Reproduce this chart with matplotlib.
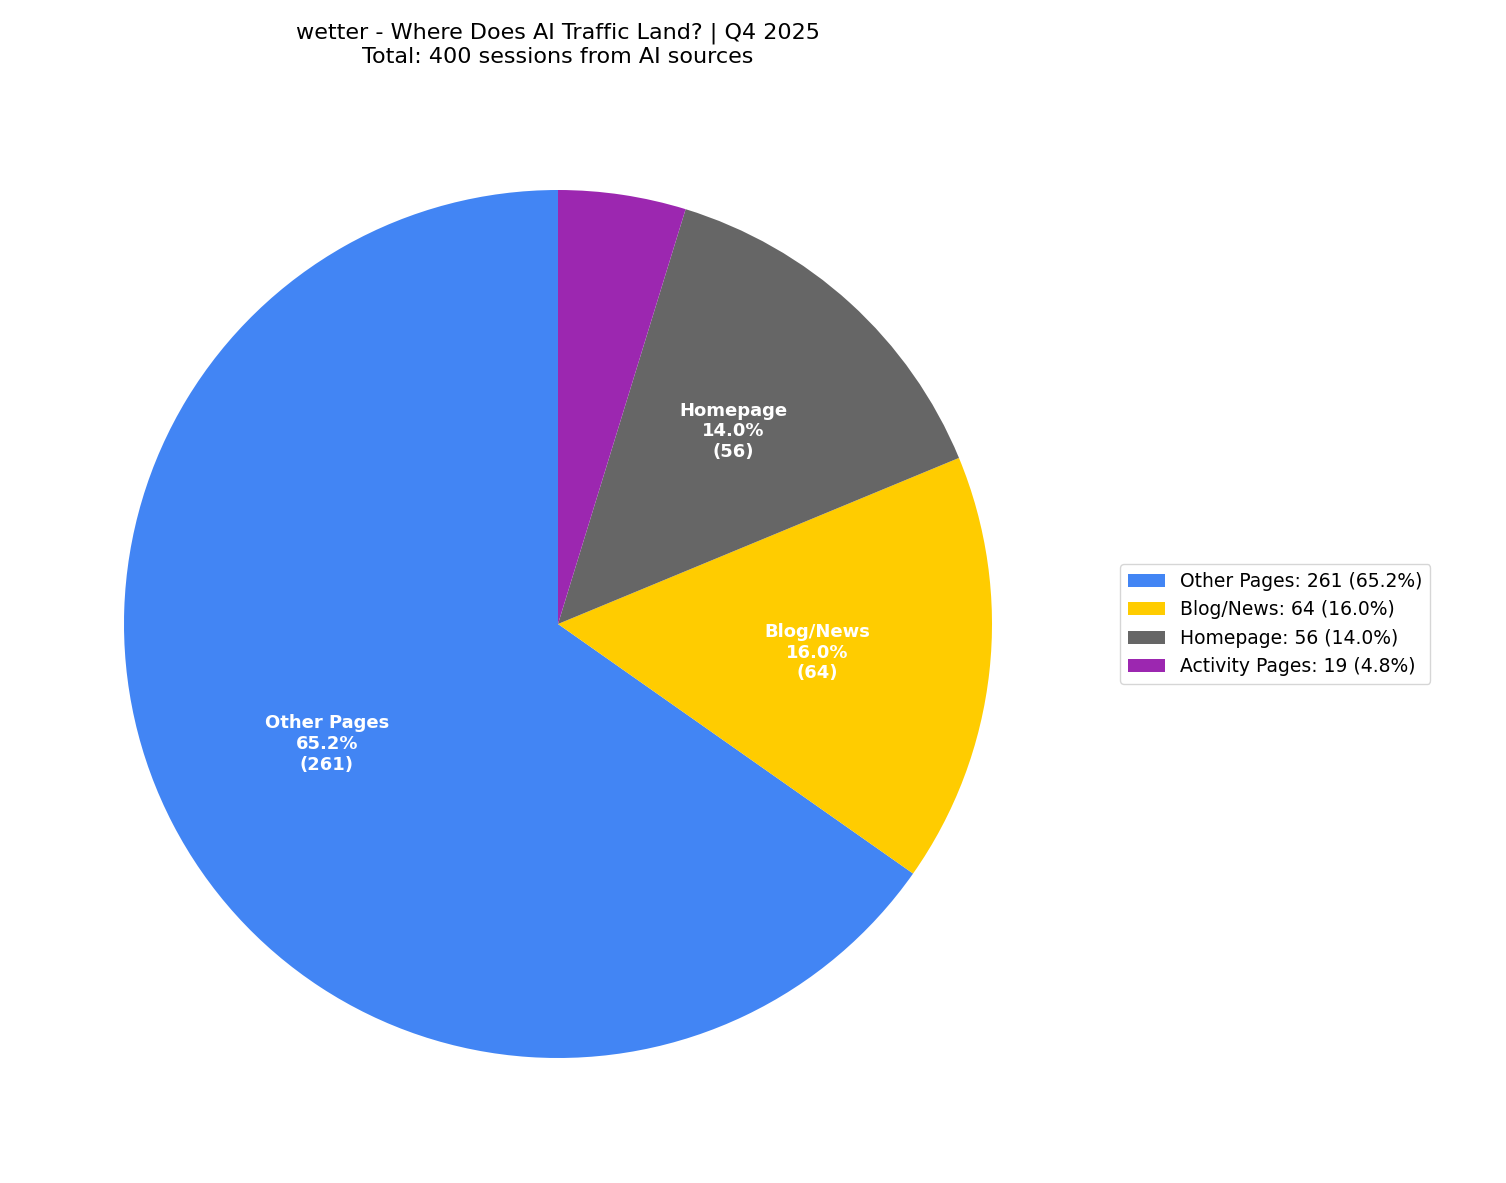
import matplotlib
matplotlib.use("Agg")
import matplotlib.pyplot as plt

categories = ["Other Pages", "Blog/News", "Homepage", "Activity Pages"]
values = [261, 64, 56, 19]
colors = ["#4285F4", "#FFCC00", "#666666", "#9C27B0"]
total = sum(values)

fig = plt.figure(figsize=(15.06, 11.83), dpi=100)
ax = fig.add_axes([15.5/1506, 16.5/1183, 1085/1506, 1085/1183])

def make_label(pct, vals=iter(range(len(values)))):
    i = next(vals)
    if pct < 5:
        return ""
    return f"{categories[i]}\n{pct:.1f}%\n({values[i]})"

wedges, texts, autotexts = ax.pie(values, colors=colors, startangle=90,
                                  autopct=make_label, pctdistance=0.6,
                                  textprops=dict(color="white", fontsize=13, fontweight="bold"))
ax.set_aspect("equal")

fig.text(558/1506, 1 - 45/1183,
         f"wetter - Where Does AI Traffic Land? | Q4 2025\nTotal: {total} sessions from AI sources",
         ha="center", va="center", fontsize=16)

legend_labels = [f"{c}: {v} ({v/total*100:.1f}%)" for c, v in zip(categories, values)]
fig.legend(wedges, legend_labels, loc="center left",
           bbox_to_anchor=(1111/1506, 1 - 624/1183), fontsize=13.5)

fig.savefig("out.png", dpi=100)
